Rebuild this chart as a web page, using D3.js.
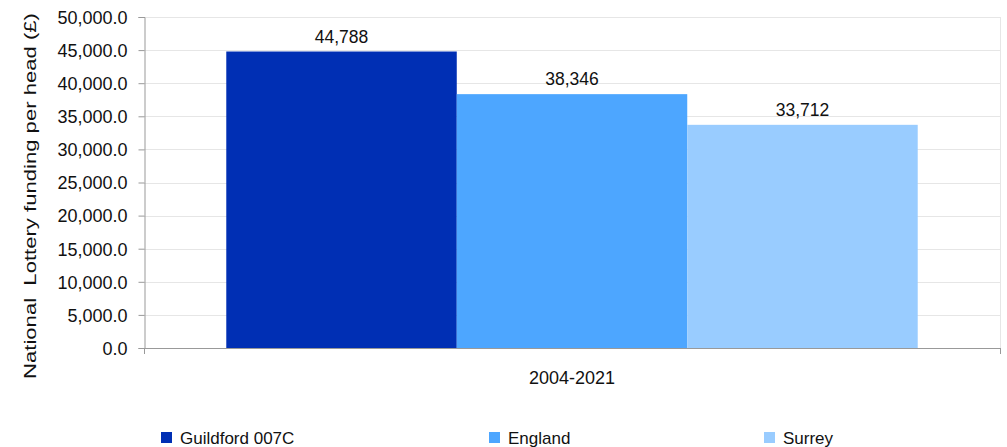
<!DOCTYPE html>
<html><head><meta charset="utf-8">
<script src="https://cdn.jsdelivr.net/npm/d3@7"></script>
<style>body{margin:0;background:#fff}svg{display:block}text{font-family:"Liberation Sans",Arial,sans-serif;fill:#111}</style>
</head><body><svg id="c" width="1007" height="447"></svg>
<script>
const categories = ["2004-2021"];
const seriesNames = ["Guildford 007C", "England", "Surrey"];
const seriesValues = [44788, 38346, 33712];
const seriesColors = ["#002FB4", "#4DA6FF", "#99CCFF"];
const yTicks = [0,5000,10000,15000,20000,25000,30000,35000,40000,45000,50000];
const yTitle = "National  Lottery funding per head (£)";

const svg = d3.select("#c");
const L=144, R=1000, T=17, B=348;
const FS = 17;
const y = d3.scaleLinear().domain([0,50000]).range([B,T]);
const x0 = d3.scaleBand().domain(categories).range([L,R]).paddingInner(0).paddingOuter(0.119);
const x1 = d3.scaleBand().domain(seriesNames).range([0,x0.bandwidth()]).padding(0);

// gridlines
svg.append("g").selectAll("line").data(yTicks.filter(d=>d>0)).join("line")
  .attr("x1",L).attr("x2",R).attr("y1",d=>Math.round(y(d))+0.5).attr("y2",d=>Math.round(y(d))+0.5)
  .attr("stroke","#e6e6e6").attr("stroke-width",1);
svg.append("line").attr("x1",R+0.5).attr("x2",R+0.5).attr("y1",T).attr("y2",B).attr("stroke","#e6e6e6");

// bars
const g = svg.append("g");
categories.forEach(c=>{
  g.selectAll("rect").data(seriesValues).join("rect")
    .attr("x",(d,i)=>x0(c)+x1(seriesNames[i]))
    .attr("width",x1.bandwidth())
    .attr("y",d=>y(d)).attr("height",d=>B-y(d))
    .attr("fill",(d,i)=>seriesColors[i]);
  g.selectAll("text.v").data(seriesValues).join("text").attr("class","v")
    .attr("x",(d,i)=>x0(c)+x1(seriesNames[i])+x1.bandwidth()/2)
    .attr("y",d=>y(d)-9).attr("text-anchor","middle").attr("font-size",17.5)
    .text(d=>d3.format(",")(d));
});

// y axis
const ya = svg.append("g").attr("transform",`translate(${L+0.5},0)`)
  .call(d3.axisLeft(y).tickValues(yTicks).tickFormat(d3.format(",.1f")).tickSize(6).tickPadding(11));
ya.selectAll("text").attr("font-size",18).attr("dy","0.35em").style("font-family",'"Liberation Sans",Arial,sans-serif').attr("fill","#111");
ya.selectAll("line,path").attr("stroke","#999");

// x axis
svg.append("line").attr("x1",L).attr("x2",R+1).attr("y1",B+0.5).attr("y2",B+0.5).attr("stroke","#999");
[L+0.5,R+0.5].forEach(xx=>svg.append("line").attr("x1",xx).attr("x2",xx).attr("y1",B).attr("y2",B+6).attr("stroke","#999"));
svg.selectAll("text.cat").data(categories).join("text").attr("class","cat")
  .attr("x",d=>x0(d)+x0.bandwidth()/2).attr("y",384).attr("text-anchor","middle").attr("font-size",18).text(d=>d);

// y title
svg.append("text").attr("transform","translate(36,196) rotate(-90) scale(1.3,1)").attr("text-anchor","middle")
  .attr("font-size",FS).style("white-space","pre").text(yTitle);

// legend
const legX = [161,489,764];
const lg = svg.append("g");
seriesNames.forEach((n,i)=>{
  lg.append("rect").attr("x",legX[i]).attr("y",432).attr("width",11).attr("height",11).attr("fill",seriesColors[i]);
  lg.append("text").attr("x",legX[i]+19).attr("y",444).attr("font-size",FS).text(n);
});
</script></body></html>
